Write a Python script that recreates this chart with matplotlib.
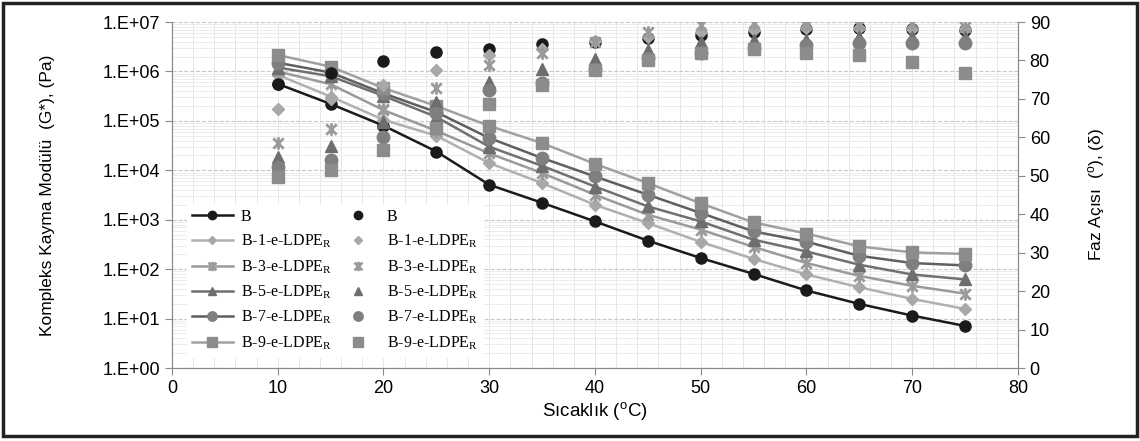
import numpy as np
import matplotlib.pyplot as plt
from matplotlib.ticker import FuncFormatter, LogLocator, MultipleLocator
from matplotlib.patches import Rectangle
from matplotlib.path import Path

plt.rcParams['font.family'] = ['Liberation Sans', 'DejaVu Sans']
plt.rcParams['mathtext.default'] = 'regular'

temp = [10, 15, 20, 25, 30, 35, 40, 45, 50, 55, 60, 65, 70, 75]
names = ['B', 'B-1-e-LDPE$_R$', 'B-3-e-LDPE$_R$', 'B-5-e-LDPE$_R$',
         'B-7-e-LDPE$_R$', 'B-9-e-LDPE$_R$']

# complex shear modulus G* (Pa)
g_B = [5.6e5, 2.2e5, 8.0e4, 2.4e4, 5.1e3, 2.2e3, 925, 377, 168, 80, 37, 19.8, 11.5, 7.1]
g_B1 = [8.5e5, 3.1e5, 1.05e5, 5.0e4, 1.4e4, 5.5e3, 2.0e3, 855, 355, 161, 78, 43, 25, 15.7]
g_B3 = [1.0e6, 5.5e5, 1.65e5, 6.3e4, 2.2e4, 8.8e3, 3.2e3, 1260, 630, 282, 133, 73, 46, 32]
g_B5 = [1.2e6, 8.0e5, 3.2e5, 1.2e5, 3.0e4, 1.23e4, 4.7e3, 1860, 925, 394, 228, 123, 78, 62]
g_B7 = [1.5e6, 9.5e5, 3.6e5, 1.5e5, 4.5e4, 1.77e4, 7.5e3, 3200, 1370, 580, 360, 186, 133, 119]
g_B9 = [2.15e6, 1.25e6, 4.6e5, 2.0e5, 7.9e4, 3.55e4, 1.35e4, 5500, 2150, 880, 525, 289, 218, 203]

# phase angle (deg)
d_B = [73.9, 76.7, 79.9, 82.3, 82.9, 84.2, 84.9, 85.8, 86.6, 87.5, 88.1, 88.5, 88.1, 87.9]
d_B1 = [67.4, 69.9, 73.5, 77.5, 81.4, 83.0, 85.0, 86.0, 87.5, 88.0, 88.5, 88.5, 88.3, 88.1]
d_B3 = [58.6, 62.1, 67.3, 72.8, 78.8, 81.9, 84.8, 87.5, 89.2, 89.7, 89.2, 89.2, 89.7, 88.8]
d_B5 = [55.0, 57.8, 64.1, 69.3, 74.5, 77.7, 80.3, 82.7, 84.9, 85.3, 85.3, 86.2, 86.0, 86.0]
d_B7 = [52.4, 54.1, 60.2, 66.3, 72.3, 74.1, 77.7, 80.6, 81.9, 83.2, 84.0, 84.5, 84.6, 84.5]
d_B9 = [49.8, 51.5, 56.7, 62.4, 68.7, 73.5, 77.5, 80.0, 82.0, 83.0, 81.9, 81.3, 79.5, 76.8]

g_all = [g_B, g_B1, g_B3, g_B5, g_B7, g_B9]
d_all = [d_B, d_B1, d_B3, d_B5, d_B7, d_B9]

# excel-like star: x with a vertical bar
star = Path([(-1, -1), (1, 1), (-1, 1), (1, -1), (0, -1.2), (0, 1.2)],
            [Path.MOVETO, Path.LINETO, Path.MOVETO, Path.LINETO, Path.MOVETO, Path.LINETO])

markers = ['o', 'D', star, '^', 'o', 's']
msizes = [8, 6, 9, 8, 9, 9]
lcolors = ['#1a1a1a', '#b0b0b0', '#9a9a9a', '#707070', '#5f5f5f', '#a0a0a0']
mcolors = ['#1a1a1a', '#a8a8a8', '#9a9a9a', '#6e6e6e', '#7f7f7f', '#8c8c8c']

fig = plt.figure(figsize=(11.4, 4.41), dpi=100)
ax = fig.add_axes([0.1509, 0.1655, 0.742, 0.7846])
ax2 = ax.twinx()

ax.set_yscale('log')
ax.set_xlim(0, 80)
ax.set_ylim(1, 1e7)
ax2.set_ylim(0, 90)

# grid
ax.xaxis.set_minor_locator(MultipleLocator(2))
ax.yaxis.set_major_locator(LogLocator(base=10, numticks=10))
ax.yaxis.set_minor_locator(LogLocator(base=10, subs=np.arange(2, 10), numticks=20))
ax.grid(True, which='major', axis='y', color='#c8c8c8', linestyle='--', linewidth=0.8)
ax.grid(True, which='minor', axis='y', color='#ececec', linewidth=0.7)
ax.grid(True, which='both', axis='x', color='#e6e6e6', linewidth=0.7)
ax.set_axisbelow(True)

handles = []
for i in range(6):
    h, = ax.plot(temp, g_all[i], color=lcolors[i], linewidth=1.8, marker=markers[i],
                 markersize=msizes[i], markerfacecolor=mcolors[i],
                 markeredgecolor=mcolors[i], markeredgewidth=2 if i == 2 else 1,
                 label=names[i])
    handles.append(h)
for i in range(6):
    h, = ax2.plot(temp, d_all[i], linestyle='none', marker=markers[i],
                  markersize=msizes[i], markerfacecolor=mcolors[i],
                  markeredgecolor=mcolors[i], markeredgewidth=2 if i == 2 else 1,
                  label=names[i])
    handles.append(h)

ax.yaxis.set_major_formatter(FuncFormatter(lambda v, p: '1.E+%02d' % int(round(np.log10(v)))))
ax.set_xticks(range(0, 81, 10))
ax2.set_yticks(range(0, 91, 10))

for a in (ax, ax2):
    for s in a.spines.values():
        s.set_color('#8a8a8a')
    a.spines['top'].set_visible(False)
    a.tick_params(which='major', labelsize=13, color='#8a8a8a', length=5, direction='out')
    a.tick_params(which='minor', length=0)

ax.set_xlabel('Sıcaklık ($^o$C)', fontsize=13.5, labelpad=2)
ax.set_ylabel('Kompleks Kayma Modülü  (G*), (Pa)', fontsize=12.5, labelpad=34)
ax2.set_ylabel('Faz Açısı  ($^o$), (δ)', fontsize=12.5, labelpad=26)

leg = ax2.legend(handles=handles, ncol=2, loc='lower left', bbox_to_anchor=(0.008, 0.01),
                 prop={'family': 'Liberation Serif', 'size': 11.5}, frameon=True,
                 framealpha=1, edgecolor='white', fancybox=False, handlelength=2.6,
                 markerscale=0.75, labelspacing=0.5, columnspacing=0.3,
                 handletextpad=0.5, borderpad=0.3)

fig.patches.append(Rectangle((0.003, 0.012), 0.994, 0.982, transform=fig.transFigure,
                             fill=False, edgecolor='#222222', linewidth=2.5))

fig.savefig('out.png', dpi=100)
